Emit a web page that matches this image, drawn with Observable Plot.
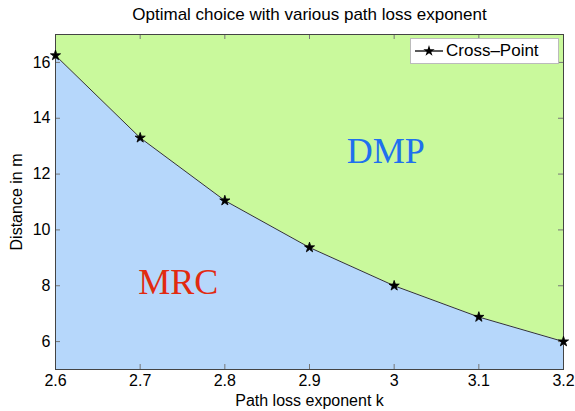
<!DOCTYPE html>
<html>
<head>
<meta charset="utf-8">
<script src="https://cdn.jsdelivr.net/npm/d3@7"></script>
<script src="https://cdn.jsdelivr.net/npm/@observablehq/plot@0.6"></script>
<style>
  html, body { margin: 0; padding: 0; background: #fff; }
  #wrap { position: relative; width: 575px; height: 411px; font-family: "Liberation Sans", Arial, sans-serif; }
  #legend { position: absolute; left: 410px; top: 38px; width: 149px; height: 26px; background: #fff; border: 1px solid #bbb; box-sizing: border-box; display: flex; align-items: center; font-size: 17px; color: #000; }
  #legend svg { margin-left: 3px; margin-right: 2px; }
</style>
</head>
<body>
<div id="wrap"></div>
<script>
const title = "Optimal choice with various path loss exponent";
const xLabel = "Path loss exponent k";
const yLabel = "Distance in m";
const seriesName = "Cross–Point";
const exponents = [2.6, 2.7, 2.8, 2.9, 3.0, 3.1, 3.2];
const crossDistance = [16.25, 13.3, 11.05, 9.37, 8.0, 6.88, 6.0];
const xTicks = [2.6, 2.7, 2.8, 2.9, 3.0, 3.1, 3.2];
const yTicks = [6, 8, 10, 12, 14, 16];
const xDomain = [2.6, 3.2];
const yDomain = [5, 17];
const regionNames = ["MRC", "DMP"];
const regionK = [2.745, 2.99];
const regionD = [8.1, 12.8];
const regionColors = ["#e22a10", "#2070ee"];

const data = exponents.map((k, i) => ({k, d: crossDistance[i]}));
const regions = regionNames.map((name, i) => ({name, k: regionK[i], d: regionD[i], c: regionColors[i]}));

const chart = Plot.plot({
  width: 575,
  height: 411,
  marginTop: 34,
  marginLeft: 55,
  marginRight: 12,
  marginBottom: 42,
  style: {fontFamily: "'Liberation Sans', Arial, sans-serif", fontSize: "15px", background: "#fff", color: "#000"},
  x: {domain: xDomain},
  y: {domain: yDomain},
  marks: [
    Plot.areaY(data, {x: "k", y1: yDomain[0], y2: "d", fill: "#b6d7fb"}),
    Plot.areaY(data, {x: "k", y1: "d", y2: yDomain[1], fill: "#c9f99c"}),
    Plot.tickX(xTicks, {x: d => d, insetBottom: 330, stroke: "#777"}),
    Plot.tickX(xTicks, {x: d => d, insetTop: 330, stroke: "#777"}),
    Plot.tickY(yTicks, {y: d => d, insetRight: 503, stroke: "#777"}),
    Plot.tickY(yTicks, {y: d => d, insetLeft: 503, stroke: "#777"}),
    Plot.frame({stroke: "#444"}),
    Plot.line(data, {x: "k", y: "d", stroke: "#333", strokeWidth: 1}),
    Plot.dot(data, {x: "k", y: "d", symbol: "star", r: 3.2, fill: "#000", stroke: "#000", strokeWidth: 0.8}),
    Plot.text(regions, {x: "k", y: "d", text: "name", fill: "c", fontFamily: "'Liberation Serif', 'Times New Roman', serif", fontSize: 36}),
    Plot.axisX({ticks: xTicks, tickSize: 0, tickPadding: 5, fontSize: 16, tickFormat: d => String(+d.toFixed(1)), label: xLabel, labelAnchor: "center", labelOffset: 36, labelArrow: "none"}),
    Plot.axisY({ticks: yTicks, tickSize: 0, tickPadding: 5, fontSize: 16, label: yLabel, labelAnchor: "center", labelOffset: 45, labelArrow: "none"}),
    Plot.text([title], {frameAnchor: "top", dy: -20, fontSize: 17, text: d => d, lineAnchor: "middle"})
  ]
});
const wrap = document.getElementById("wrap");
wrap.appendChild(chart);
const legend = document.createElement("div");
legend.id = "legend";
legend.innerHTML = `<svg width="30" height="12" viewBox="0 0 30 12"><line x1="1" y1="6" x2="29" y2="6" stroke="#000" stroke-width="1.3"/><path d="${d3.symbol(d3.symbolStar, 40)()}" transform="translate(15,6)" fill="#000"/></svg><span>${seriesName}</span>`;
wrap.appendChild(legend);
</script>
</body>
</html>
